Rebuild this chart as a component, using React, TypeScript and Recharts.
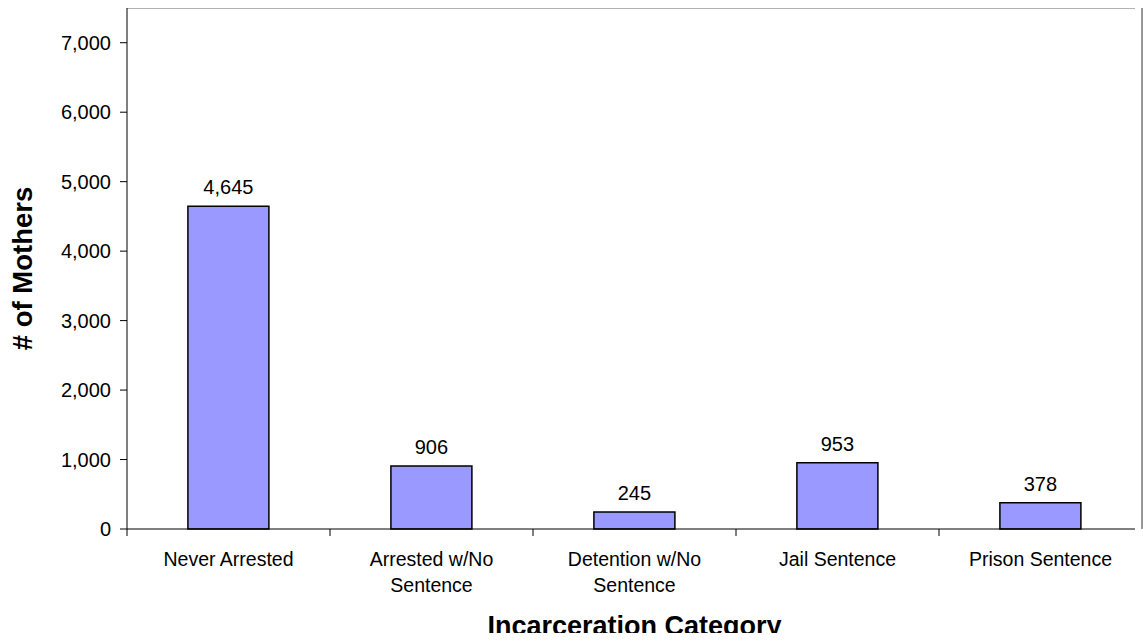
import React from 'react';
import { BarChart, Bar, XAxis, YAxis, LabelList, ReferenceLine } from 'recharts';

const categories = ['Never Arrested', 'Arrested w/No\nSentence', 'Detention w/No\nSentence', 'Jail Sentence', 'Prison Sentence'];
const mothers = [4645, 906, 245, 953, 378];
const yTicks = [0, 1000, 2000, 3000, 4000, 5000, 6000, 7000];
const yMax = 7500;

const data = categories.map((c, i) => ({ name: c, mothers: mothers[i] }));

const FONT = 'Arial, "Liberation Sans", sans-serif';
const fmt = (v: number) => v.toLocaleString('en-US');

// category label, plus a tick mark on the left edge of each band
function CatTick(props: any) {
  const { x, y, payload } = props;
  const half = payload.offset ?? 0;
  const lines = String(payload.value).split('\n');
  return (
    <g>
      <line x1={x - half} x2={x - half} y1={y - 8} y2={y - 1} stroke="#000" strokeWidth={1} />
      <text x={x} y={y + 29} textAnchor="middle" fontSize={19.5} fontFamily={FONT} fill="#000">
        {lines.map((l, i) => (
          <tspan key={i} x={x} dy={i === 0 ? 0 : 25.5}>{l}</tspan>
        ))}
      </text>
    </g>
  );
}

const yTitle = (p: any) => {
  const vb = p.viewBox;
  const cx = vb.x + 22;
  const cy = vb.y + vb.height / 2;
  return (
    <text x={cx} y={cy} transform={`rotate(-90 ${cx} ${cy})`} textAnchor="middle" dominantBaseline="central"
      fontSize={27.5} fontWeight="bold" fontFamily={FONT} fill="#000">
      # of Mothers
    </text>
  );
};

const xTitle = (p: any) => {
  const vb = p.viewBox;
  return (
    <text x={vb.x + vb.width / 2} y={vb.y + 106} textAnchor="middle"
      fontSize={27} fontWeight="bold" fontFamily={FONT} fill="#000">
      Incarceration Category
    </text>
  );
};

export default function App() {
  return (
    <div style={{ margin: -8, background: '#fff', width: 1143, height: 641 }}>
      <BarChart width={1143} height={641} data={data} margin={{ top: 8, right: 1, left: 0, bottom: 0 }}
        barCategoryGap="30%">
        <XAxis dataKey="name" height={112} interval={0} stroke="#000" tickLine={false}
          tick={<CatTick />} label={{ content: xTitle }} />
        <YAxis width={127} domain={[0, yMax]} ticks={yTicks} tickFormatter={fmt} stroke="#000"
          tickSize={7} tickMargin={9} tick={{ fontSize: 20, fontFamily: FONT, fill: '#000' }}
          label={{ content: yTitle }} />
        <ReferenceLine y={yMax} stroke="#999" strokeWidth={1.5} />
        <Bar dataKey="mothers" fill="#9999FF" stroke="#000" strokeWidth={1.5} isAnimationActive={false}>
          <LabelList dataKey="mothers" position="top" offset={12} formatter={(v: any) => fmt(Number(v))}
            style={{ fontSize: 20, fontFamily: FONT, fill: '#000' }} />
        </Bar>
      </BarChart>
      <div style={{ position: 'absolute', left: 1141, top: 8, width: 1.5, height: 521, background: '#999' }} />
    </div>
  );
}
